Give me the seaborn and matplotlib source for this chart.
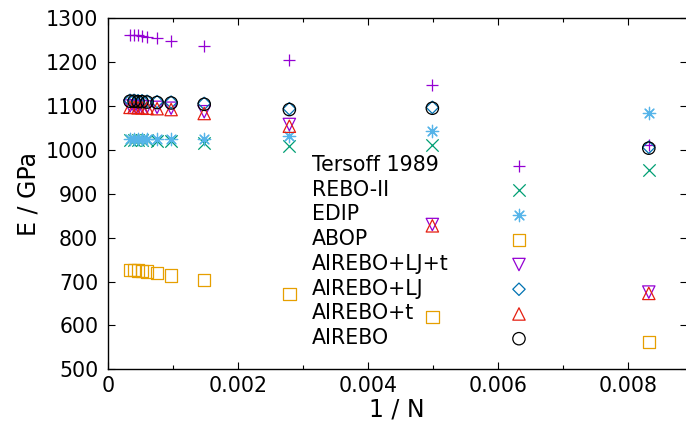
import numpy as np
import pandas as pd
import matplotlib
matplotlib.use("Agg")
import matplotlib.pyplot as plt
import seaborn as sns
from matplotlib.ticker import MultipleLocator

# ---- data ----
inv_n = [0.000339, 0.000401, 0.000462, 0.000524, 0.000601, 0.000755,
         0.000971, 0.00148, 0.00279, 0.00499, 0.00832]

tersoff      = [1263, 1262, 1261, 1259, 1257, 1254, 1249, 1238, 1206, 1147, 1012]
rebo2        = [1023, 1023, 1023, 1022, 1022, 1021, 1020, 1016, 1008, 1012, 954]
edip         = [1024, 1024, 1024, 1024, 1024, 1024, 1024, 1024, 1032, 1043, 1084]
abop         = [727, 726, 725, 724, 723, 719, 714, 703, 671, 619, 562]
airebo_lj_t  = [1100, 1100, 1099, 1099, 1098, 1097, 1095, 1087, 1058, 830, 676]
airebo_lj    = [1113, 1113, 1112, 1112, 1111, 1110, 1109, 1106, 1094, 1097, 1006]
airebo_t     = [1097, 1097, 1096, 1096, 1095, 1094, 1092, 1083, 1054, 827, 673]
airebo       = [1111, 1111, 1110, 1110, 1109, 1108, 1107, 1104, 1092, 1095, 1004]

labels = ["Tersoff 1989", "REBO-II", "EDIP", "ABOP",
          "AIREBO+LJ+t", "AIREBO+LJ", "AIREBO+t", "AIREBO"]
series = [tersoff, rebo2, edip, abop, airebo_lj_t, airebo_lj, airebo_t, airebo]
colors = ["#9400d3", "#009e73", "#56b4e9", "#e69f00",
          "#9400d3", "#0072b2", "#e51e10", "#000000"]
markers = ["+", "x", (8, 2, 0), "s", "v", "D", "^", "o"]
filled = [False, False, False, True, True, True, True, True]
msize = [8.9, 8.9, 8.9, 8.9, 8.9, 6.3, 8.9, 8.9]

x_ticks = [0, 0.002, 0.004, 0.006, 0.008]
x_tick_labels = ["0", "0.002", "0.004", "0.006", "0.008"]
y_ticks = [500, 600, 700, 800, 900, 1000, 1100, 1200, 1300]

df = pd.concat([pd.DataFrame({"x": inv_n, "E": s, "model": l})
                for s, l in zip(series, labels)], ignore_index=True)

sns.set_theme(style="white")
plt.rcParams["font.family"] = ["DejaVu Sans"]

W, H = 686, 426
fig = plt.figure(figsize=(W / 100, H / 100), dpi=100)
left, right, bottom, top = 108, 686.5, 426 - 369.3, 426 - 18.3
ax = fig.add_axes([left / W, bottom / H, (right - left) / W, (top - bottom) / H])

for lab, c, m, f, ms in zip(labels, colors, markers, filled, msize):
    sub = df[df["model"] == lab]
    kw = dict(marker=m, s=ms ** 2, linewidth=0.9, label=lab, zorder=3)
    if f:
        kw.update(color=c, facecolor="none", edgecolor=c)
    else:
        kw.update(color=c)
    sns.scatterplot(data=sub, x="x", y="E", ax=ax, legend=False, **kw)

ax.set_xlim(0, 0.0089)
ax.set_ylim(500, 1300)
ax.set_xticks(x_ticks)
ax.set_xticklabels(x_tick_labels)
ax.set_yticks(y_ticks)
ax.xaxis.set_minor_locator(MultipleLocator(0.001))

for sp in ax.spines.values():
    sp.set_visible(True)
    sp.set_color("black")
    sp.set_linewidth(1.0)

ax.tick_params(axis="both", which="major", direction="in", length=5, width=0.8,
               color="black", labelsize=14.8, labelcolor="black",
               top=True, right=True, bottom=True, left=True)
ax.tick_params(axis="x", which="major", pad=5)
ax.tick_params(axis="y", which="major", pad=7)
ax.tick_params(axis="x", which="minor", direction="in", length=3, width=0.8,
               color="black", top=True, bottom=True)

ax.set_xlabel("1 / N", fontsize=17, color="black", labelpad=1)
ax.set_ylabel("E / GPa", fontsize=17, color="black", labelpad=4)

handles, labs = ax.get_legend_handles_labels()
common = dict(loc="upper left", bbox_transform=fig.transFigure, frameon=False,
              fontsize=14.8, labelspacing=0.23, borderpad=0, borderaxespad=0,
              scatterpoints=1)
row_top = 426 - 155

# text column (left aligned), handles hidden
leg_text = ax.legend(handles, labs, bbox_to_anchor=(312 / W, row_top / H),
                     handlelength=0, handletextpad=0, **common)
for h in leg_text.legend_handles:
    h.set_visible(False)
for t in leg_text.get_texts():
    t.set_color("black")
ax.add_artist(leg_text)

# marker column
leg_mark = ax.legend(handles, [""] * len(handles),
                     bbox_to_anchor=((519 - 10.3) / W, row_top / H),
                     handlelength=1.0, handletextpad=0, **common)

fig.savefig("out.png", dpi=100)
